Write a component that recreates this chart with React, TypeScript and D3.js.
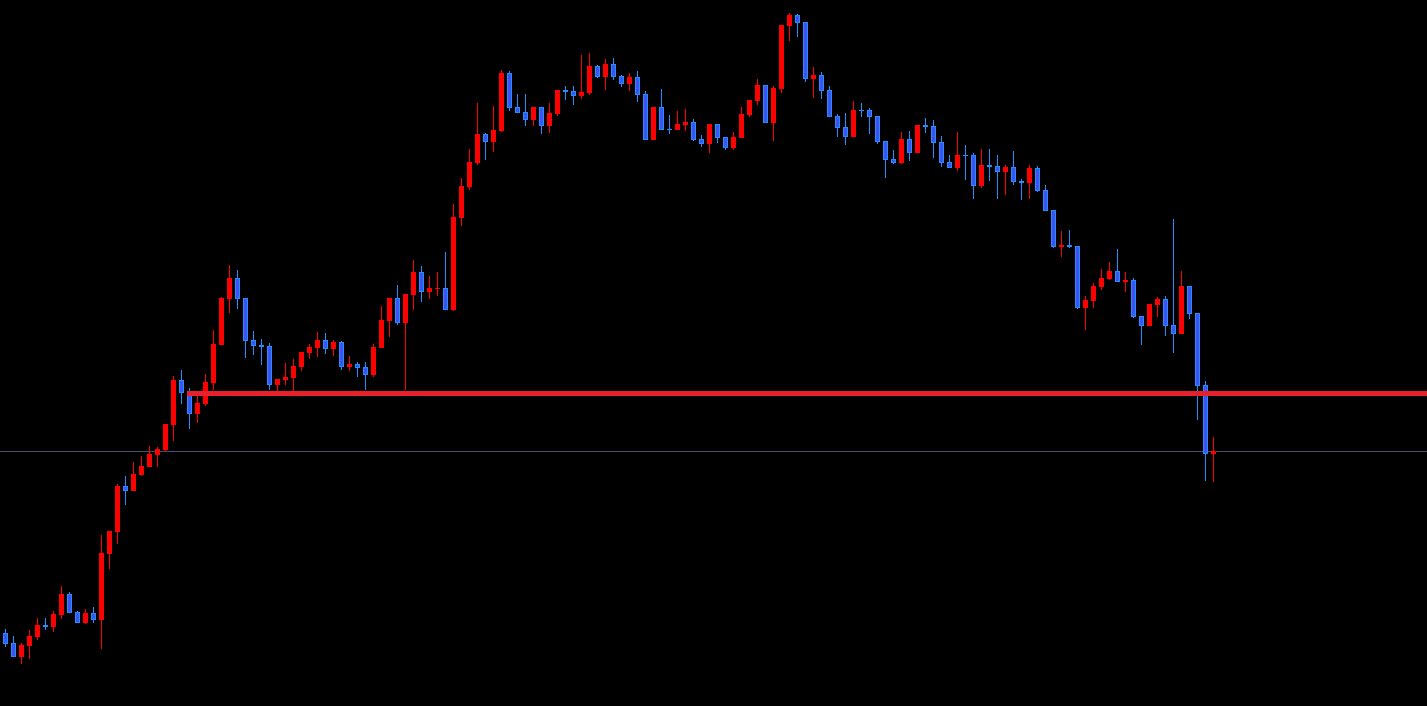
import { FC } from 'react';
import * as d3 from 'd3';

// price data, oldest bar first
const open = [
  143.67, 143.57, 143.43, 143.54, 143.63, 143.75, 143.73, 143.85, 144.06, 143.88,
  143.77, 143.87, 143.80, 144.46, 144.68, 145.14, 145.09, 145.25, 145.33, 145.45,
  145.50, 145.75, 146.20, 146.08, 145.86, 145.96, 146.17, 146.55, 147.01, 147.22,
  147.02, 146.60, 146.55, 146.54, 146.15, 146.20, 146.22, 146.33, 146.47, 146.52,
  146.60, 146.51, 146.58, 146.33, 146.36, 146.33, 146.25, 146.52, 146.79, 147.02,
  146.77, 147.05, 147.28, 147.08, 147.11, 147.12, 146.90, 147.82, 148.13, 148.37,
  148.66, 148.58, 148.69, 149.27, 148.93, 148.88, 148.80, 148.93, 148.74, 148.86,
  149.10, 149.09, 149.04, 149.07, 149.34, 149.23, 149.36, 149.24, 149.16, 149.23,
  149.06, 148.60, 148.93, 148.71, 148.70, 148.75, 148.78, 148.61, 148.56, 148.76,
  148.63, 148.52, 148.62, 148.85, 148.99, 149.15, 148.77, 149.11, 149.74, 149.85,
  149.78, 149.21, 149.25, 149.10, 148.84, 148.73, 148.63, 148.90, 148.90, 148.84,
  148.59, 148.41, 148.37, 148.61, 148.47, 148.75, 148.74, 148.58, 148.38, 148.32,
  148.45, 148.45, 148.14, 148.35, 148.34, 148.28, 148.33, 148.19, 148.17, 148.32,
  148.10, 147.90, 147.53, 147.55, 147.54, 146.92, 146.99, 147.13, 147.21, 147.29,
  147.18, 147.20, 146.84, 146.74, 146.95, 147.01, 146.75, 146.66, 147.14, 146.87,
  146.15, 145.46,
];

const high = [
  143.71, 143.64, 143.57, 143.70, 143.82, 143.82, 143.89, 144.14, 144.08, 143.89,
  143.91, 143.93, 144.65, 144.69, 145.16, 145.24, 145.38, 145.44, 145.54, 145.53,
  145.76, 146.24, 146.30, 146.12, 146.06, 146.26, 146.70, 147.03, 147.35, 147.30,
  147.02, 146.69, 146.61, 146.57, 146.21, 146.37, 146.41, 146.48, 146.56, 146.68,
  146.67, 146.60, 146.59, 146.44, 146.38, 146.38, 146.56, 146.94, 147.02, 147.15,
  147.06, 147.40, 147.34, 147.24, 147.28, 147.48, 147.96, 148.22, 148.51, 148.97,
  148.67, 148.94, 149.30, 149.29, 149.06, 149.06, 148.93, 148.93, 148.97, 149.10,
  149.14, 149.14, 149.45, 149.47, 149.35, 149.41, 149.42, 149.25, 149.27, 149.29,
  149.09, 148.93, 149.11, 148.85, 148.89, 148.91, 148.81, 148.65, 148.76, 148.76,
  148.63, 148.68, 148.93, 149.00, 149.21, 149.15, 149.14, 149.75, 149.87, 149.86,
  149.78, 149.33, 149.28, 149.14, 148.86, 148.87, 148.99, 148.97, 148.92, 148.84,
  148.59, 148.50, 148.68, 148.69, 148.75, 148.82, 148.80, 148.64, 148.45, 148.68,
  148.55, 148.47, 148.51, 148.51, 148.45, 148.35, 148.49, 148.21, 148.35, 148.34,
  148.15, 147.90, 147.69, 147.70, 147.54, 147.04, 147.17, 147.31, 147.38, 147.51,
  147.28, 147.22, 146.84, 146.96, 147.03, 147.04, 147.81, 147.29, 147.14, 146.87,
  146.19, 145.63,
];

const low = [
  143.53, 143.43, 143.36, 143.41, 143.60, 143.70, 143.68, 143.81, 143.87, 143.77,
  143.76, 143.77, 143.51, 144.31, 144.56, 144.95, 145.09, 145.24, 145.33, 145.33,
  145.48, 145.59, 145.96, 145.71, 145.77, 145.94, 146.10, 146.55, 146.87, 146.91,
  146.42, 146.45, 146.35, 146.10, 146.09, 146.15, 146.04, 146.29, 146.41, 146.43,
  146.46, 146.44, 146.30, 146.29, 146.23, 146.10, 146.23, 146.52, 146.63, 146.75,
  146.10, 146.90, 146.98, 147.01, 147.04, 146.90, 146.89, 147.74, 148.10, 148.35,
  148.40, 148.48, 148.68, 148.89, 148.87, 148.74, 148.74, 148.66, 148.67, 148.84,
  149.00, 148.95, 149.01, 149.05, 149.22, 149.10, 149.20, 149.13, 149.09, 148.98,
  148.60, 148.60, 148.70, 148.66, 148.70, 148.69, 148.59, 148.53, 148.47, 148.57,
  148.50, 148.50, 148.62, 148.83, 148.95, 148.77, 148.59, 149.07, 149.59, 149.63,
  149.18, 149.02, 149.01, 148.83, 148.63, 148.55, 148.63, 148.83, 148.66, 148.56,
  148.22, 148.36, 148.36, 148.39, 148.47, 148.67, 148.42, 148.33, 148.32, 148.29,
  148.20, 148.01, 148.12, 148.19, 148.01, 148.05, 148.15, 148.00, 148.01, 148.08,
  147.89, 147.52, 147.43, 147.52, 146.91, 146.70, 146.92, 147.10, 147.20, 147.18,
  147.08, 146.82, 146.55, 146.74, 146.83, 146.64, 146.47, 146.66, 146.81, 145.80,
  145.19, 145.18,
];

const close = [
  143.56, 143.43, 143.55, 143.64, 143.75, 143.73, 143.86, 144.06, 143.87, 143.77,
  143.87, 143.80, 144.47, 144.69, 145.14, 145.09, 145.26, 145.34, 145.46, 145.51,
  145.76, 146.20, 146.07, 145.86, 145.97, 146.18, 146.56, 147.02, 147.22, 147.01,
  146.59, 146.54, 146.53, 146.15, 146.21, 146.23, 146.34, 146.48, 146.53, 146.60,
  146.51, 146.58, 146.33, 146.36, 146.32, 146.25, 146.53, 146.80, 147.02, 146.77,
  147.06, 147.28, 147.08, 147.12, 147.12, 146.90, 147.83, 148.14, 148.38, 148.66,
  148.58, 148.70, 149.27, 148.92, 148.87, 148.80, 148.93, 148.74, 148.87, 149.10,
  149.08, 149.04, 149.08, 149.34, 149.23, 149.36, 149.23, 149.16, 149.23, 149.05,
  148.60, 148.93, 148.70, 148.70, 148.76, 148.78, 148.60, 148.56, 148.76, 148.62,
  148.52, 148.63, 148.86, 149.00, 149.15, 148.77, 149.12, 149.75, 149.85, 149.77,
  149.21, 149.25, 149.09, 148.83, 148.72, 148.63, 148.90, 148.89, 148.83, 148.58,
  148.40, 148.37, 148.61, 148.47, 148.75, 148.73, 148.57, 148.37, 148.32, 148.45,
  148.44, 148.14, 148.35, 148.33, 148.28, 148.33, 148.18, 148.17, 148.32, 148.09,
  147.89, 147.53, 147.55, 147.53, 146.92, 147.00, 147.14, 147.22, 147.29, 147.18,
  147.20, 146.83, 146.74, 146.96, 147.01, 146.74, 146.66, 147.14, 146.86, 146.14,
  145.46, 145.49,
];

// horizontal levels
const supportLevel = 146.065;
const supportStartBar = 23;
const bidPrice = 145.49;

const WIDTH = 1427;
const HEIGHT = 706;

const UP = '#ff0000';
const DOWN_FILL = '#4152f5';
const DOWN_EDGE = '#1e90ff';

const App: FC = () => {
  const n = close.length;

  const x = d3.scaleLinear()
      .domain([0, n - 1])
      .range([5.5, 5.5 + 8 * (n - 1)]);

  const y = d3.scaleLinear()
      .domain([142.94, 150.0])
      .range([HEIGHT, 0]);

  const bars = d3.range(n).map(i => {
    const up = close[i] >= open[i];
    const cx = Math.round(x(i) - 0.5) + 0.5;
    const top = Math.round(y(Math.max(open[i], close[i])));
    const bottom = Math.round(y(Math.min(open[i], close[i])));
    return { i, up, cx, top, bottom, hi: Math.round(y(high[i])), lo: Math.round(y(low[i])) };
  });

  const supportY = y(supportLevel);
  const bidY = Math.round(y(bidPrice)) + 0.5;

  return (
      <svg
          width={WIDTH}
          height={HEIGHT}
          style={{ position: 'absolute', left: 0, top: 0, display: 'block' }}
      >
        <rect width={WIDTH} height={HEIGHT} fill="#000000" />

        {/* bid line */}
        <line x1={0} x2={WIDTH} y1={bidY} y2={bidY} stroke="#4e4c6c" strokeWidth={1} />

        {/* candles */}
        {bars.map(b => {
          const h = Math.max(1, b.bottom - b.top);
          return (
              <g key={b.i}>
                <line
                    x1={b.cx}
                    x2={b.cx}
                    y1={b.hi}
                    y2={b.lo}
                    stroke={b.up ? UP : DOWN_EDGE}
                    strokeWidth={1}
                    shapeRendering="crispEdges"
                />
                <rect
                    x={b.cx - 2}
                    y={b.top + 0.5}
                    width={4}
                    height={h - 1 > 0 ? h - 1 : 0.01}
                    fill={b.up ? UP : DOWN_FILL}
                    stroke={b.up ? UP : DOWN_EDGE}
                    strokeWidth={1}
                />
              </g>
          );
        })}

        {/* support / resistance level */}
        <line
            x1={x(supportStartBar) - 2.5}
            x2={WIDTH}
            y1={supportY}
            y2={supportY}
            stroke="#e8202c"
            strokeWidth={5}
        />
      </svg>
  );
};

export default App;
